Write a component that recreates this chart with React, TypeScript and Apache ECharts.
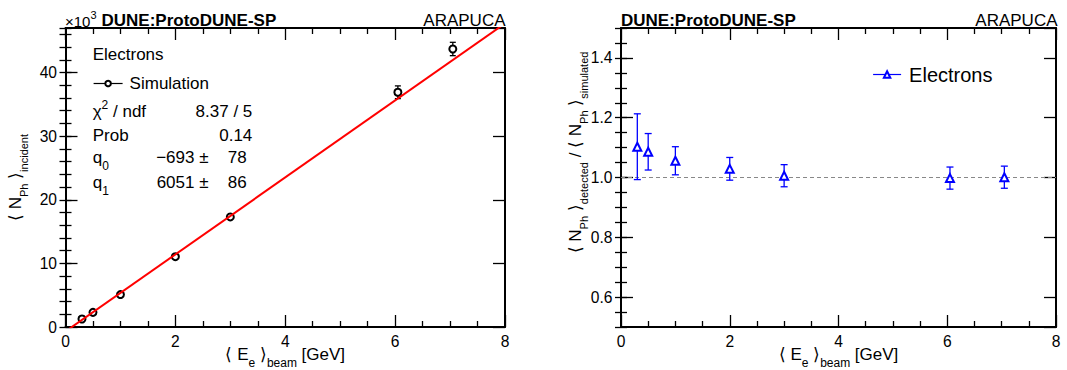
import React, { useEffect, useRef } from 'react';
import * as echarts from 'echarts';

const FONT = '"Liberation Sans", Arial, Helvetica, sans-serif';

// Beam energies (GeV)
const beamEnergy = [0.3, 0.5, 1.0, 2.0, 3.0, 6.05, 7.05];
// Left panel: mean incident photons (x10^3) and errors
const incidentPhotons = [1.26, 2.3, 5.1, 11.05, 17.3, 36.9, 43.7];
const incidentErr = [0.15, 0.2, 0.25, 0.35, 0.45, 1.0, 1.05];
// Right panel: detected / simulated ratio and errors
const ratio = [1.103, 1.086, 1.056, 1.029, 1.006, 0.998, 1.001];
const ratioErr = [0.11, 0.061, 0.047, 0.038, 0.037, 0.037, 0.037];

// Linear fit results
const fitChi2 = 8.37;
const fitNdf = 5;
const fitProb = 0.14;
const fitQ0 = -693;
const fitQ0Err = 78;
const fitQ1 = 6051;
const fitQ1Err = 86;

// Axis ranges and ticks
const xRange = [0, 8];
const xMajor = 2;
const yLeftRange = [0, 47];
const yLeftMajor = 10;
const yLeftMinor = 2;
const yRightRange = [0.5, 1.5];
const yRightMinor = 0.05;

const leftSeriesName = 'Simulation';
const rightSeriesName = 'Electrons';
const experimentLabel = 'DUNE:ProtoDUNE-SP';
const detectorLabel = 'ARAPUCA';

const BLUE = '#0000ff';
const RED = '#ff0000';

function richStyles(main: number, sub: number) {
  return {
    n: { fontSize: main, fontFamily: FONT, color: '#000', fill: '#000', lineHeight: 20 },
    s: { fontSize: sub, fontFamily: FONT, color: '#000', fill: '#000', lineHeight: 20, padding: [17, 0, 0, 0] },
    p: { fontSize: sub, fontFamily: FONT, color: '#000', fill: '#000', lineHeight: 20, padding: [0, 0, 12, 0] },
  };
}

const tickStyle = { color: '#000', width: 1.3 };
const frameStyle = { color: '#000', width: 2 };
const labelStyle = { color: '#000', fontSize: 15.6, fontFamily: FONT };

function xAxes(gridIndex: number) {
  const base: any = {
    type: 'value',
    gridIndex,
    min: xRange[0],
    max: xRange[1],
    interval: xMajor,
    axisLine: { show: true, onZero: false, lineStyle: frameStyle },
    axisTick: { show: true, inside: true, length: 12, lineStyle: tickStyle },
    minorTick: { show: true, splitNumber: 4, length: 6, lineStyle: tickStyle },
    splitLine: { show: false },
    minorSplitLine: { show: false },
  };
  return [
    {
      ...base,
      position: 'bottom',
      axisLabel: { show: true, margin: 6, ...labelStyle },
      name: '{n|⟨ E}{s|e}{n| ⟩}{s|beam}{n| [GeV]}',
      nameLocation: 'middle',
      nameGap: 17,
      nameMoveOverlap: false,
      nameTextStyle: { rich: richStyles(17, 12) },
    },
    { ...base, position: 'top', axisLabel: { show: false } },
  ];
}

function yAxisSet(gridIndex: number, range: number[], majorOpts: any, minorInterval: number, name: string, nameGap: number, namePad: number[], labelFmt?: (v: number) => string) {
  const common: any = {
    type: 'value',
    gridIndex,
    min: range[0],
    max: range[1],
    splitLine: { show: false },
    minorSplitLine: { show: false },
  };
  const major = {
    ...common,
    ...majorOpts,
    axisLine: { show: true, onZero: false, lineStyle: frameStyle },
    axisTick: { show: true, inside: true, length: 12, lineStyle: tickStyle },
  };
  const minor = {
    ...common,
    interval: minorInterval,
    axisLine: { show: false },
    axisTick: { show: true, inside: true, length: 6, lineStyle: tickStyle },
    axisLabel: { show: false },
  };
  return [
    {
      ...major,
      position: 'left',
      axisLabel: { show: true, margin: 8.5, showMinLabel: range[0] === 0, showMaxLabel: false, formatter: labelFmt, ...labelStyle },
      name,
      nameLocation: 'middle',
      nameGap,
      nameMoveOverlap: false,
      nameTextStyle: { rich: richStyles(17, 11), padding: namePad },
    },
    { ...minor, position: 'left' },
    { ...major, position: 'right', axisLabel: { show: false } },
    { ...minor, position: 'right' },
  ];
}

function errorBars(gap: number, cap: number, color: string) {
  return (params: any, api: any) => {
    const x = api.value(0);
    const y = api.value(1);
    const e = api.value(2);
    const c = api.coord([x, y]);
    const hi = api.coord([x, y + e]);
    const lo = api.coord([x, y - e]);
    const style = { stroke: color, lineWidth: 1.3 };
    const children: any[] = [];
    if (c[1] - hi[1] > gap) {
      children.push({ type: 'line', shape: { x1: c[0], y1: hi[1], x2: c[0], y2: c[1] - gap }, style });
      children.push({ type: 'line', shape: { x1: c[0] - cap, y1: hi[1], x2: c[0] + cap, y2: hi[1] }, style });
    }
    if (lo[1] - c[1] > gap) {
      children.push({ type: 'line', shape: { x1: c[0], y1: c[1] + gap, x2: c[0], y2: lo[1] }, style });
      children.push({ type: 'line', shape: { x1: c[0] - cap, y1: lo[1], x2: c[0] + cap, y2: lo[1] }, style });
    }
    return { type: 'group', children };
  };
}

function fmtSigned(v: number) {
  return v < 0 ? '\u2212' + Math.abs(v) : String(v);
}

function text(x: number, y: number, t: string, extra: any = {}) {
  return {
    type: 'text',
    x,
    y,
    silent: true,
    style: {
      text: t,
      fontSize: 17,
      fontFamily: FONT,
      fill: '#000',
      align: 'left',
      verticalAlign: 'middle',
      ...extra,
    },
  };
}

function buildOption(): any {
  const fitLine = xRange.map((x) => [x, (fitQ0 + fitQ1 * x) / 1000]);
  const leftPoints = beamEnergy.map((x, i) => [x, incidentPhotons[i]]);
  const leftErr = beamEnergy.map((x, i) => [x, incidentPhotons[i], incidentErr[i]]);
  const rightPoints = beamEnergy.map((x, i) => [x, ratio[i]]);
  const rightErr = beamEnergy.map((x, i) => [x, ratio[i], ratioErr[i]]);
  const rich = richStyles(17, 12);

  return {
    animation: false,
    backgroundColor: '#fff',
    textStyle: { fontFamily: FONT },
    grid: [
      { left: 65.5, top: 28, width: 439.5, height: 299, containLabel: false, outerBoundsMode: 'none' },
      { left: 621, top: 28, width: 435, height: 299, containLabel: false, outerBoundsMode: 'none' },
    ],
    xAxis: [...xAxes(0), ...xAxes(1)],
    yAxis: [
      ...yAxisSet(0, yLeftRange, { interval: yLeftMajor }, yLeftMinor,
        '{n|⟨ N}{s|Ph}{n| ⟩}{s|incident}', 40, [0, 0, 0, 0]),
      ...yAxisSet(1, yRightRange, { splitNumber: 5 }, yRightMinor,
        '{n|⟨ N}{s|Ph}{n| ⟩}{s|detected}{n| / ⟨ N}{s|Ph}{n| ⟩}{s|simulated}', 36, [0, 0, 0, 50],
        (v: number) => v.toFixed(1)),
    ],
    legend: [
      {
        data: [leftSeriesName],
        left: 93,
        top: 75,
        padding: 0,
        itemWidth: 29,
        itemHeight: 7,
        selectedMode: false,
        textStyle: { fontSize: 17, fontFamily: FONT, color: '#000', padding: [0, 0, 0, 2] },
        lineStyle: { color: '#000', width: 1.2, opacity: 1 },
      },
      {
        data: [rightSeriesName],
        left: 872.5,
        top: 64.5,
        padding: 0,
        itemWidth: 28,
        itemHeight: 8,
        selectedMode: false,
        textStyle: { fontSize: 20, fontFamily: FONT, color: '#000', padding: [0, 0, 0, 3] },
        lineStyle: { color: BLUE, width: 1.2, opacity: 1 },
      },
    ],
    series: [
      {
        name: leftSeriesName,
        type: 'line',
        xAxisIndex: 0,
        yAxisIndex: 0,
        data: leftPoints,
        symbol: 'emptyCircle',
        symbolSize: 7,
        showAllSymbol: true,
        lineStyle: { opacity: 0 },
        itemStyle: { color: '#000', borderWidth: 1 },
        z: 3,
      },
      {
        type: 'custom',
        xAxisIndex: 0,
        yAxisIndex: 0,
        data: leftErr,
        renderItem: errorBars(3.5, 3, '#000'),
        z: 3,
        silent: true,
      },
      {
        type: 'line',
        xAxisIndex: 0,
        yAxisIndex: 0,
        data: fitLine,
        symbol: 'none',
        lineStyle: { color: RED, width: 2 },
        z: 5,
        silent: true,
      },
      {
        name: rightSeriesName,
        type: 'line',
        xAxisIndex: 2,
        yAxisIndex: 4,
        data: rightPoints,
        symbol: 'emptyTriangle',
        symbolSize: 8,
        showAllSymbol: true,
        lineStyle: { opacity: 0 },
        itemStyle: { color: BLUE, borderWidth: 1 },
        z: 4,
        markLine: {
          silent: true,
          symbol: ['none', 'none'],
          label: { show: false },
          lineStyle: { color: '#888', width: 1, type: [4, 3] },
          data: [{ yAxis: 1 }],
          z: 2,
        },
      },
      {
        type: 'custom',
        xAxisIndex: 2,
        yAxisIndex: 4,
        data: rightErr,
        renderItem: errorBars(4, 3.5, BLUE),
        z: 4,
        silent: true,
      },
    ],
    graphic: [
      text(65, 21, '{n|×10}{p|3}', { rich: { ...richStyles(15, 11) } }),
      text(101.5, 20.5, experimentLabel, { fontWeight: 'bold' }),
      text(505.5, 20.5, detectorLabel, { align: 'right' }),
      text(621, 20.5, experimentLabel, { fontWeight: 'bold' }),
      text(1057.5, 20.5, detectorLabel, { align: 'right' }),
      text(92.7, 54, rightSeriesName),
      text(92.7, 111, '{n|χ}{p|2}{n| / ndf}', { rich }),
      text(252.3, 111, `${fitChi2} / ${fitNdf}`, { align: 'right' }),
      text(92.7, 135, 'Prob'),
      text(252.3, 135, String(fitProb), { align: 'right' }),
      text(92.7, 157, '{n|q}{s|0}', { rich }),
      text(208.5, 157, `${fmtSigned(fitQ0)} ±`, { align: 'right' }),
      text(246.7, 157, String(fitQ0Err), { align: 'right' }),
      text(92.7, 182, '{n|q}{s|1}', { rich }),
      text(208.5, 182, `${fmtSigned(fitQ1)} ±`, { align: 'right' }),
      text(246.7, 182, String(fitQ1Err), { align: 'right' }),
    ],
  };
}

export default function App() {
  const ref = useRef<HTMLDivElement>(null);
  useEffect(() => {
    if (!ref.current) return;
    const chart = echarts.init(ref.current, null, { renderer: 'svg' });
    chart.setOption(buildOption());
    return () => {
      chart.dispose();
    };
  }, []);
  return (
    <div
      ref={ref}
      style={{ position: 'fixed', left: 0, top: 0, width: 1067, height: 370, background: '#fff' }}
    />
  );
}
